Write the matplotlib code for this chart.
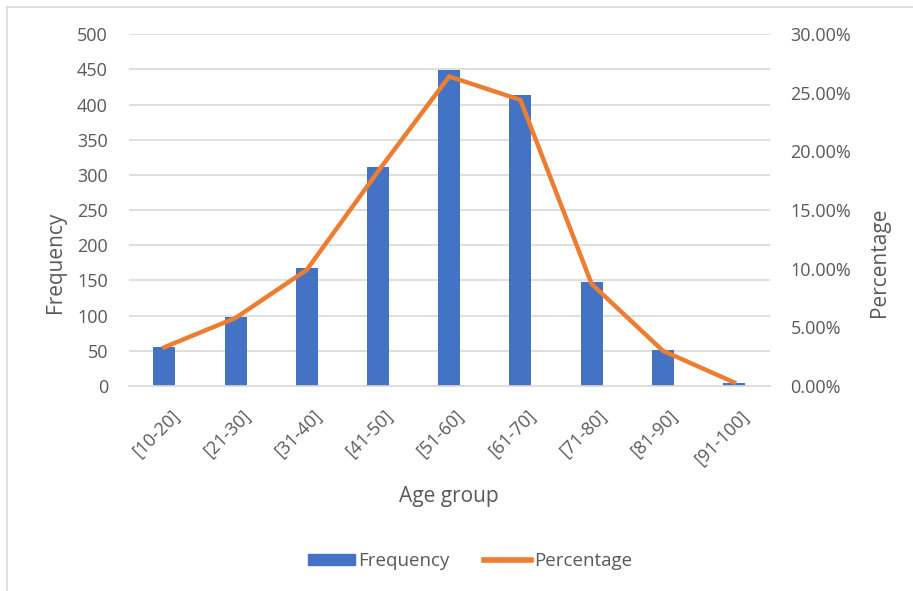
import matplotlib.pyplot as plt
import matplotlib.transforms as mtransforms
from matplotlib.lines import Line2D
from matplotlib.patches import Patch
from matplotlib.ticker import FuncFormatter

age_groups = ["[10-20]", "[21-30]", "[31-40]", "[41-50]", "[51-60]",
              "[61-70]", "[71-80]", "[81-90]", "[91-100]"]
frequency = [55, 98, 168, 311, 449, 414, 148, 51, 4]
percentage = [3.3, 5.8, 9.9, 18.3, 26.4, 24.4, 8.7, 3.0, 0.3]

BAR_COLOR = "#4472C4"
LINE_COLOR = "#ED7D31"
TEXT_COLOR = "#595959"
GRID_COLOR = "#D9D9D9"

plt.rcParams["font.family"] = ["Open Sans", "DejaVu Sans"]

fig = plt.figure(figsize=(9.13, 5.91), dpi=100)
ax = fig.add_axes([0.141, 0.347, 0.702, 0.595])
ax2 = ax.twinx()

x = list(range(len(age_groups)))
ax.bar(x, frequency, width=0.31, color=BAR_COLOR, zorder=2)
ax2.plot(x, percentage, color=LINE_COLOR, linewidth=3.2, solid_joinstyle="miter", zorder=3)

ax.set_xlim(-0.5, len(age_groups) - 0.5)
ax.set_ylim(0, 500)
ax.set_yticks(range(0, 501, 50))
ax2.set_ylim(0, 30)
ax2.set_yticks(range(0, 31, 5))
ax2.yaxis.set_major_formatter(FuncFormatter(lambda v, _: f"{v:.2f}%"))

ax.grid(axis="y", color=GRID_COLOR, linewidth=1.2, zorder=0)
ax.set_axisbelow(True)
for a in (ax, ax2):
    for side in ("top", "right", "left", "bottom"):
        a.spines[side].set_visible(False)
    a.tick_params(length=0, labelsize=13, colors=TEXT_COLOR)
ax.spines["bottom"].set_visible(True)
ax.spines["bottom"].set_color(GRID_COLOR)
ax.spines["bottom"].set_linewidth(1.2)

ax.set_xticks(x)
ax.set_xticklabels(age_groups, rotation=45, ha="right", rotation_mode="anchor")
ax.tick_params(axis="x", pad=15)
ax.tick_params(axis="y", pad=15)
ax2.tick_params(axis="y", pad=15)
shift = mtransforms.ScaledTranslation(6 / 100, 0, fig.dpi_scale_trans)
for lbl in ax.get_xticklabels():
    lbl.set_transform(lbl.get_transform() + shift)

ax.set_xlabel("Age group", fontsize=15, color=TEXT_COLOR)
ax.set_ylabel("Frequency", fontsize=15, color=TEXT_COLOR)
ax2.set_ylabel("Percentage", fontsize=15, color=TEXT_COLOR)
ax.xaxis.label.set_va("center")
ax.yaxis.label.set_va("center")
ax2.yaxis.label.set_va("center")
ax.xaxis.set_label_coords(0.5, -0.315)
ax.yaxis.set_label_coords(-0.115, 0.352)
ax2.yaxis.set_label_coords(1.172, 0.352)

handles = [Patch(color=BAR_COLOR, label="Frequency"),
           Line2D([0], [0], color=LINE_COLOR, linewidth=4, label="Percentage")]
fig.legend(handles=handles, loc="center", bbox_to_anchor=(0.515, 0.051), ncol=2,
           frameon=False, fontsize=13.5, labelcolor=TEXT_COLOR, handlelength=2.5,
           handleheight=0.55, handletextpad=0.2, columnspacing=1.8)

# light chart-area border
fig.add_artist(Line2D([7 / 913, 7 / 913], [0, 1 - 7 / 591], transform=fig.transFigure,
                      color="#D9D9D9", linewidth=1.2))
fig.add_artist(Line2D([7 / 913, 1], [1 - 7 / 591, 1 - 7 / 591], transform=fig.transFigure,
                      color="#D9D9D9", linewidth=1.2))

fig.savefig("out.png", dpi=100)
